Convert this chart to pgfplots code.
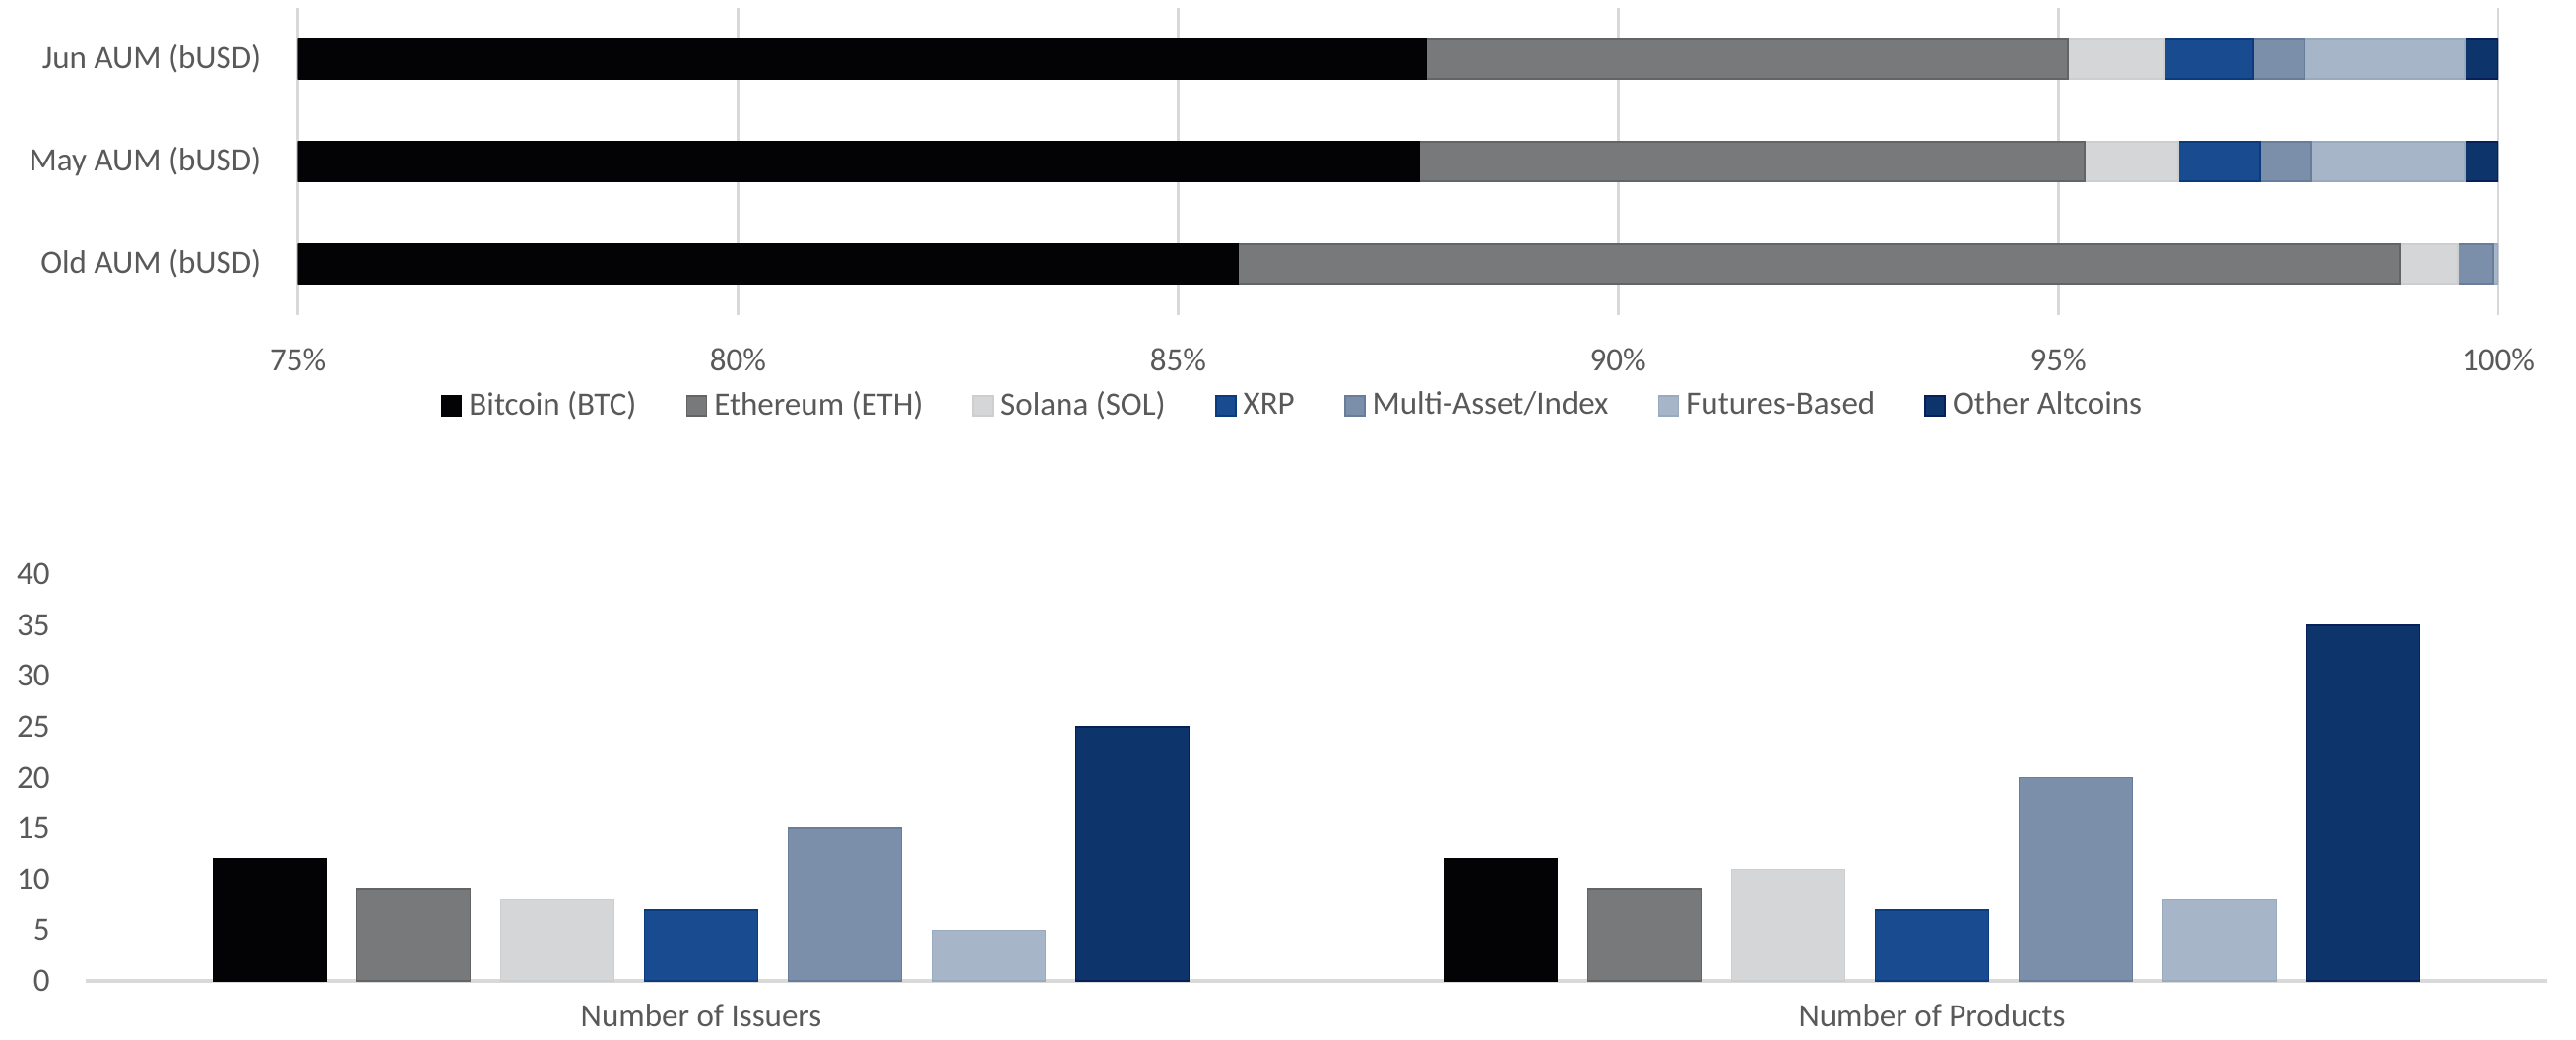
\documentclass[border=0pt]{standalone}
\usepackage{fontspec}
\setmainfont{Carlito}
\usepackage{pgfplots}
\usepackage{pgfplotstable}
\pgfplotsset{compat=1.18}

\definecolor{txt}{HTML}{595959}
\definecolor{gridc}{HTML}{D9D9D9}
\definecolor{cBTC}{HTML}{030306}
\definecolor{cETH}{HTML}{78797B}
\definecolor{cETHd}{HTML}{636465}
\definecolor{cSOL}{HTML}{D5D6D8}
\definecolor{cSOLd}{HTML}{CDCED0}
\definecolor{cXRP}{HTML}{184B8F}
\definecolor{cXRPd}{HTML}{0B3A7D}
\definecolor{cMULTI}{HTML}{7B8FAA}
\definecolor{cMULTId}{HTML}{687D99}
\definecolor{cFUT}{HTML}{A6B6C8}
\definecolor{cFUTd}{HTML}{99AABF}
\definecolor{cOTH}{HTML}{0D356C}
\definecolor{cOTHd}{HTML}{08205A}

% Share of AUM by asset class, in percent (0 = Old, 1 = May, 2 = Jun)
\pgfplotstableread{
pos BTC   ETH   SOL  XRP  MULTI FUT  OTH
0   85.68 13.20 0.66 0.00 0.40  0.06 0.00
1   87.74 7.56  1.06 0.93 0.58  1.75 0.38
2   87.82 7.29  1.10 1.00 0.59  1.82 0.38
}\aumshare

% Number of issuers (0) and products (1) per asset class
\pgfplotstableread{
pos BTC ETH SOL XRP MULTI FUT OTH
0   12  9   8   7   15    5   25
1   12  9   11  7   20    8   35
}\counts

\pgfplotsset{
  chartfont/.style={font=\fontsize{9.4}{11.3}\selectfont, text=txt},
  sBTC/.style={fill=cBTC, draw=cBTC, line width=0.5pt},
  sETH/.style={fill=cETH, draw=cETHd, line width=0.5pt},
  sSOL/.style={fill=cSOL, draw=cSOLd, line width=0.5pt},
  sXRP/.style={fill=cXRP, draw=cXRPd, line width=0.5pt},
  sMULTI/.style={fill=cMULTI, draw=cMULTId, line width=0.5pt},
  sFUT/.style={fill=cFUT, draw=cFUTd, line width=0.5pt},
  sOTH/.style={fill=cOTH, draw=cOTHd, line width=0.5pt},
}

\begin{document}
\begin{tikzpicture}
\path[use as bounding box] (0,0) rectangle (26.16cm,10.55cm);

% Top: stacked share of AUM
\begin{axis}[
  at={(3.026cm,7.35cm)}, anchor=south west,
  scale only axis, width=22.344cm, height=3.12cm,
  xbar stacked, bar width=0.4cm,
  xmin=75, xmax=100, ymin=-0.5, ymax=2.5,
  xtick={75,80,85,90,95,100},
  xticklabel={\pgfmathprintnumber{\tick}\%},
  ytick={0,1,2},
  yticklabels={Old AUM (bUSD), May AUM (bUSD), Jun AUM (bUSD)},
  xmajorgrids, grid style={draw=gridc, line width=0.8pt},
  axis line style={draw=none}, major tick length=0pt,
  tick label style={chartfont},
  /pgf/number format/assume math mode=true,
  xticklabel style={yshift=-0.22cm},
  yticklabel style={xshift=-0.25cm},
  legend style={at={(0.4515,-0.295)}, anchor=center, draw=none, fill=none,
    chartfont, legend columns=-1,
    /tikz/every even column/.append style={column sep=0.5cm},
    /tikz/every odd column/.append style={column sep=0.07cm},
    nodes={inner sep=0pt}},
  legend image code/.code={\fill[#1] (0cm,-0.1cm) rectangle (0.2cm,0.1cm);},
]
\addplot[sBTC] table[x=BTC, y=pos] {\aumshare};
\addplot[sETH] table[x=ETH, y=pos] {\aumshare};
\addplot[sSOL] table[x=SOL, y=pos] {\aumshare};
\addplot[sXRP] table[x=XRP, y=pos] {\aumshare};
\addplot[sMULTI] table[x=MULTI, y=pos] {\aumshare};
\addplot[sFUT] table[x=FUT, y=pos] {\aumshare};
\addplot[sOTH] table[x=OTH, y=pos] {\aumshare};
\legend{Bitcoin (BTC), Ethereum (ETH), Solana (SOL), XRP, Multi-Asset/Index, Futures-Based, Other Altcoins}
\end{axis}

% Bottom: issuers and products per asset class
\begin{axis}[
  at={(0.87cm,0.59cm)}, anchor=south west,
  scale only axis, width=25cm, height=4.13cm,
  ybar=0.31cm, bar width=1.15cm,
  xmin=-0.5, xmax=1.5, ymin=0, ymax=40,
  xtick={0,1}, xticklabels={Number of Issuers, Number of Products},
  ytick={0,5,...,40},
  axis x line*=bottom, axis y line*=left,
  x axis line style={draw=gridc, line width=0.9pt},
  y axis line style={draw=none},
  major tick length=0pt,
  tick label style={chartfont},
  /pgf/number format/assume math mode=true,
  xticklabel style={yshift=-0.11cm},
  yticklabel style={xshift=-0.24cm},
]
\addplot[sBTC] table[x=pos, y=BTC] {\counts};
\addplot[sETH] table[x=pos, y=ETH] {\counts};
\addplot[sSOL] table[x=pos, y=SOL] {\counts};
\addplot[sXRP] table[x=pos, y=XRP] {\counts};
\addplot[sMULTI] table[x=pos, y=MULTI] {\counts};
\addplot[sFUT] table[x=pos, y=FUT] {\counts};
\addplot[sOTH] table[x=pos, y=OTH] {\counts};
\end{axis}
\end{tikzpicture}
\end{document}
